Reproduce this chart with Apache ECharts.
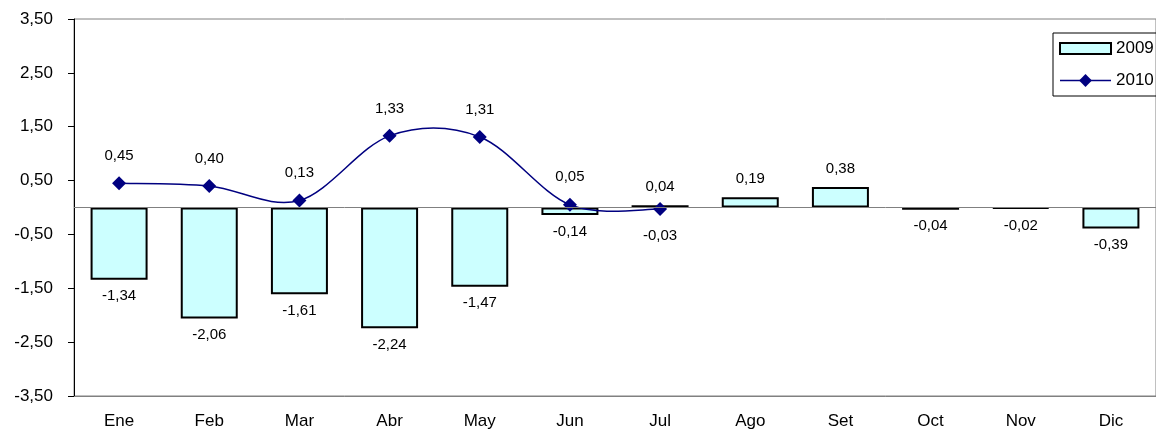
<!DOCTYPE html>
<html>
<head>
<meta charset="utf-8">
<script src="https://cdn.jsdelivr.net/npm/echarts@6/dist/echarts.min.js"></script>
<style>
html,body{margin:0;padding:0;background:#fff;}
#c{width:1156px;height:430px;}
</style>
</head>
<body>
<div id="c"></div>
<script>
var categories = ['Ene','Feb','Mar','Abr','May','Jun','Jul','Ago','Set','Oct','Nov','Dic'];
var values2009 = [-1.34,-2.06,-1.61,-2.24,-1.47,-0.14,0.04,0.19,0.38,-0.04,-0.02,-0.39];
var values2010 = [0.45,0.40,0.13,1.33,1.31,0.05,-0.03];
var seriesNames = ['2009','2010'];

function fmt(v){ return v.toFixed(2).replace('.', ','); }
var FONT = '"Liberation Sans", Arial, sans-serif';
var NAVY = '#000080';

var barData = values2009.map(function(v){
  return {value: v, label: {position: v < 0 ? 'bottom' : 'top', distance: v < 0 ? 9 : 11}};
});
var lineData = values2010.map(function(v){
  return {value: v, label: {position: v < 0 ? 'bottom' : 'top', distance: v < 0 ? 12 : 13}};
});
var curveData = values2010.map(function(v, i){ return [i, v]; });

// Excel-like smoothed curve (Catmull-Rom Bezier) through the 2010 points, positioned by the axes
function renderCurve(params, api){
  var n = values2010.length;
  var i = params.dataIndex;
  if (i >= n - 1) return null;
  function P(k){ k = Math.max(0, Math.min(n - 1, k)); return api.coord([k, values2010[k]]); }
  var p0 = P(i - 1), p1 = P(i), p2 = P(i + 1), p3 = P(i + 2);
  return {
    type: 'bezierCurve',
    shape: {
      x1: p1[0], y1: p1[1], x2: p2[0], y2: p2[1],
      cpx1: p1[0] + (p2[0] - p0[0]) / 6, cpy1: p1[1] + (p2[1] - p0[1]) / 6,
      cpx2: p2[0] - (p3[0] - p1[0]) / 6, cpy2: p2[1] - (p3[1] - p1[1]) / 6
    },
    style: {stroke: NAVY, lineWidth: 1.5, fill: null},
    silent: true
  };
}

var chart = echarts.init(document.getElementById('c'), null, {renderer:'canvas'});
chart.setOption({
  animation: false,
  backgroundColor: '#ffffff',
  textStyle: {fontFamily: FONT},
  grid: {left: 74, top: 19, bottom: 33, right: -12, show: true, borderColor: '#808080', borderWidth: 1, backgroundColor: 'transparent'},
  legend: {
    left: 1053, top: 33, orient: 'vertical',
    borderColor: '#000', borderWidth: 1,
    padding: [7, 8, 7, 6],
    itemWidth: 51, itemHeight: 16, itemGap: 15,
    textStyle: {fontFamily: FONT, fontSize: 17, lineHeight: 16, color: '#000'},
    data: [
      {name: seriesNames[0], icon: 'path://M0,0 L51,0 L51,11 L0,11 Z'},
      {name: seriesNames[1], lineStyle: {opacity: 1, color: NAVY, width: 1.5}}
    ]
  },
  xAxis: {
    type: 'category', data: categories,
    axisLine: {onZero: false, lineStyle: {color: '#808080', width: 1}},
    axisTick: {show: false},
    axisLabel: {fontFamily: FONT, fontSize: 17, color: '#000', margin: 17},
    splitLine: {show: false}
  },
  yAxis: {
    type: 'value', min: -3.5, max: 3.5, interval: 1,
    axisLine: {show: true, lineStyle: {color: '#000', width: 1}},
    axisTick: {show: true, length: 6, lineStyle: {color: '#000'}},
    axisLabel: {fontFamily: FONT, fontSize: 17, color: '#000', margin: 21, formatter: function(v){ return fmt(v); }},
    splitLine: {show: false}
  },
  series: [
    {
      name: seriesNames[0], type: 'bar', data: barData, barWidth: 57,
      itemStyle: {color: '#CCFFFF', borderColor: '#000', borderWidth: 2},
      label: {show: true, fontFamily: FONT, fontSize: 15, color: '#000', formatter: function(p){ return fmt(p.value); }},
      markLine: {
        silent: true, symbol: 'none', label: {show: false},
        lineStyle: {color: '#808080', width: 1, type: 'solid'},
        data: [{yAxis: 0}]
      },
      z: 2
    },
    {
      name: seriesNames[1], type: 'line', data: lineData,
      symbol: 'diamond', symbolSize: 14,
      lineStyle: {color: NAVY, width: 1.5, opacity: 0},
      itemStyle: {color: NAVY},
      label: {show: true, fontFamily: FONT, fontSize: 15, color: '#000', formatter: function(p){ return fmt(p.value); }},
      z: 4
    },
    {
      name: '2010-curve', type: 'custom', data: curveData,
      encode: {x: 0, y: 1},
      renderItem: renderCurve,
      z: 3, silent: true
    }
  ]
});
</script>
</body>
</html>
